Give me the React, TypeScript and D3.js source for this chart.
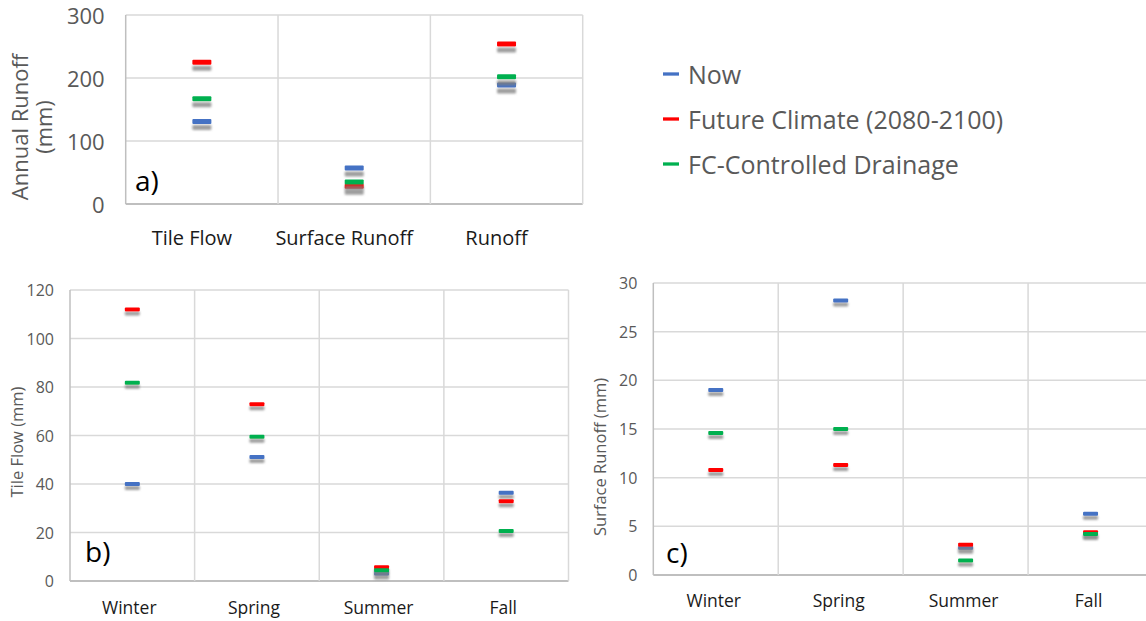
import React from "react";
import * as d3 from "d3";

const seriesNames = ["Now", "Future Climate (2080-2100)", "FC-Controlled Drainage"];
const seriesColors = ["#4472C4", "#FF0000", "#00B050"];

const annualCategories = ["Tile Flow", "Surface Runoff", "Runoff"];
const annualNow = [131, 57, 189];
const annualFuture = [225, 28, 254];
const annualFC = [167, 35, 202];
const annualTicks = [0, 100, 200, 300];

const seasonCategories = ["Winter", "Spring", "Summer", "Fall"];
const tileNow = [40, 51.1, 3.1, 36.4];
const tileFuture = [112, 72.9, 5.7, 32.9];
const tileFC = [81.8, 59.5, 4.4, 20.6];
const tileTicks = [0, 20, 40, 60, 80, 100, 120];

const surfNow = [19.0, 28.2, 2.8, 6.3];
const surfFuture = [10.8, 11.3, 3.1, 4.4];
const surfFC = [14.6, 15.0, 1.5, 4.2];
const surfTicks = [0, 5, 10, 15, 20, 25, 30];

const FONT = "'Open Sans', 'Segoe UI', sans-serif";
const GRID = "#d9d9d9";
const AXIS = "#bfbfbf";
const TICK_COLOR = "#595959";
const CAT_COLOR = "#1a1a1a";

type PanelProps = {
  id: string;
  categories: string[];
  series: number[][];
  ticks: number[];
  left: number;
  right: number;
  top: number;
  bottom: number;
  tickFont: number;
  tickGap: number;
  catFont: number;
  catY: number;
  catDx: number;
  markW: number;
  markH: number;
  shadowDy: number;
  titleLines: string[];
  titleX: number[];
  titleY: number;
  titleFont: number;
  letter: string;
  letterX: number;
  letterY: number;
};

function Panel(p: PanelProps) {
  const x = d3.scaleBand<string>().domain(p.categories).range([p.left, p.right]).paddingInner(0).paddingOuter(0);
  const y = d3.scaleLinear().domain([p.ticks[0], p.ticks[p.ticks.length - 1]]).range([p.bottom, p.top]);
  const bw = x.bandwidth();
  const bounds = p.categories.map((c) => x(c) as number).concat([p.right]);
  return (
    <g>
      <defs>
        <filter id={`sh-${p.id}`} x="-50%" y="-100%" width="200%" height="400%">
          <feDropShadow dx="0" dy={p.shadowDy} stdDeviation="1.3" floodColor="#7f7f7f" floodOpacity="0.75" />
        </filter>
      </defs>
      {p.ticks.map((t) => (
        <line key={`h${t}`} x1={p.left} x2={p.right} y1={y(t)} y2={y(t)} stroke={t === 0 ? AXIS : GRID} strokeWidth={t === 0 ? 2 : 1.5} />
      ))}
      {bounds.map((b, i) => (
        <line key={`v${i}`} x1={b} x2={b} y1={p.top} y2={p.bottom} stroke={i === 0 ? AXIS : GRID} strokeWidth={1.5} />
      ))}
      {p.ticks.map((t) => (
        <text key={`t${t}`} x={p.left - p.tickGap} y={y(t)} textAnchor="end" dominantBaseline="central" fontSize={p.tickFont} fill={TICK_COLOR} fontFamily={FONT}>
          {t}
        </text>
      ))}
      {p.categories.map((c) => (
        <text key={`c${c}`} x={(x(c) as number) + bw / 2 + p.catDx} y={p.catY} textAnchor="middle" fontSize={p.catFont} fill={CAT_COLOR} fontFamily={FONT}>
          {c}
        </text>
      ))}
      {p.series.map((vals, si) =>
        vals.map((v, ci) => (
          <rect
            key={`m${si}-${ci}`}
            x={(x(p.categories[ci]) as number) + bw / 2 - p.markW / 2}
            y={y(v) - p.markH / 2}
            width={p.markW}
            height={p.markH}
            rx={1}
            fill={seriesColors[si]}
            filter={`url(#sh-${p.id})`}
          />
        ))
      )}
      {p.titleLines.map((line, i) => (
        <text key={`tl${i}`} transform={`translate(${p.titleX[i]},${p.titleY}) rotate(-90)`} textAnchor="middle" fontSize={p.titleFont} fill={TICK_COLOR} fontFamily={FONT}>
          {line}
        </text>
      ))}
      <text x={p.letterX} y={p.letterY} fontSize={28} fill="#000" fontFamily={FONT}>
        {p.letter}
      </text>
    </g>
  );
}

export default function App() {
  return (
    <svg width={1146} height={621} style={{ position: "absolute", left: 0, top: 0, background: "#fff" }}>
      <rect width={1146} height={621} fill="#fff" />
      <Panel
        id="a"
        categories={annualCategories}
        series={[annualNow, annualFuture, annualFC]}
        ticks={annualTicks}
        left={125.7}
        right={582.7}
        top={15}
        bottom={204}
        tickFont={22}
        tickGap={21}
        catFont={20}
        catY={245}
        catDx={-10}
        markW={19}
        markH={5}
        shadowDy={6}
        titleLines={["Annual Runoff", "(mm)"]}
        titleX={[28, 52]}
        titleY={127}
        titleFont={22}
        letter="a)"
        letterX={135}
        letterY={191}
      />
      <Panel
        id="b"
        categories={seasonCategories}
        series={[tileNow, tileFuture, tileFC]}
        ticks={tileTicks}
        left={70}
        right={568.5}
        top={290}
        bottom={581}
        tickFont={16}
        tickGap={16}
        catFont={17.5}
        catY={614}
        catDx={-3}
        markW={15}
        markH={4}
        shadowDy={4}
        titleLines={["Tile Flow (mm)"]}
        titleX={[23]}
        titleY={442}
        titleFont={16.5}
        letter="b)"
        letterX={85}
        letterY={562}
      />
      <Panel
        id="c"
        categories={seasonCategories}
        series={[surfNow, surfFuture, surfFC]}
        ticks={surfTicks}
        left={653.3}
        right={1153}
        top={283}
        bottom={575}
        tickFont={16}
        tickGap={16}
        catFont={17.5}
        catY={607}
        catDx={-2}
        markW={15}
        markH={4}
        shadowDy={4}
        titleLines={["Surface Runoff (mm)"]}
        titleX={[606]}
        titleY={457}
        titleFont={16.5}
        letter="c)"
        letterX={666}
        letterY={563}
      />
      {seriesNames.map((name, i) => (
        <g key={name}>
          <line x1={663} x2={679} y1={74 + i * 45} y2={74 + i * 45} stroke={seriesColors[i]} strokeWidth={3.3} />
          <text x={688} y={74 + i * 45} dominantBaseline="central" fontSize={25} fill={TICK_COLOR} fontFamily={FONT}>
            {name}
          </text>
        </g>
      ))}
    </svg>
  );
}
